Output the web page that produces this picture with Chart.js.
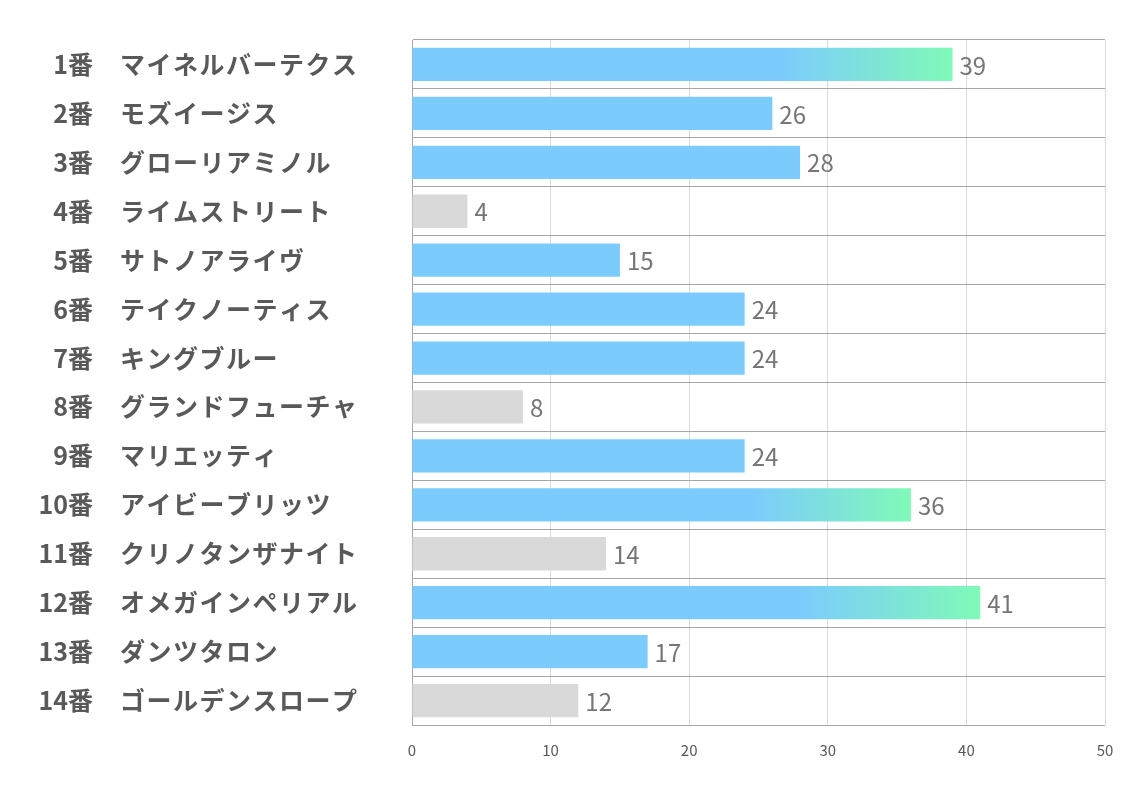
<!DOCTYPE html>
<html lang="ja">
<head>
  <meta charset="UTF-8" />
  <title>出走馬</title>
  <script src="https://cdn.jsdelivr.net/npm/chart.js"></script>
  <style>
    html, body { margin: 0; padding: 0; background: #fff; }
    #wrap { width: 1134px; height: 793px; }
  </style>
</head>
<body>
<div id="wrap"><canvas id="chart"></canvas></div>
<script>
  const numbers = ['1番','2番','3番','4番','5番','6番','7番','8番','9番','10番','11番','12番','13番','14番'];
  const horses = ['マイネルバーテクス','モズイージス','グローリアミノル','ライムストリート','サトノアライヴ','テイクノーティス','キングブルー','グランドフューチャ','マリエッティ','アイビーブリッツ','クリノタンザナイト','オメガインペリアル','ダンツタロン','ゴールデンスロープ'];
  const values = [39, 26, 28, 4, 15, 24, 24, 8, 24, 36, 14, 41, 17, 12];
  // b = blue, g = gray, t = top (gradient)
  const kinds = ['t','b','b','g','b','b','b','g','b','t','g','t','b','g'];
  const xTicks = [0, 10, 20, 30, 40, 50];

  const BLUE = '#7ccbfd';
  const GREEN = '#80f9b8';
  const GRAY = '#d9d9d9';
  const FONT = "'Noto Sans CJK JP', 'Noto Sans', sans-serif";

  function barColor(ctx) {
    const k = kinds[ctx.dataIndex];
    if (k === 'g') return GRAY;
    if (k === 'b') return BLUE;
    const chart = ctx.chart;
    const xs = chart.scales.x;
    if (!xs || !chart.chartArea) return BLUE;
    const x0 = xs.getPixelForValue(0);
    const x1 = xs.getPixelForValue(values[ctx.dataIndex]);
    const g = chart.ctx.createLinearGradient(x0, 0, x1, 0);
    g.addColorStop(0, BLUE);
    g.addColorStop(0.68, BLUE);
    g.addColorStop(1, GREEN);
    return g;
  }

  const labelPlugin = {
    id: 'labels',
    afterDatasetsDraw(chart) {
      const c = chart.ctx;
      const ys = chart.scales.y;
      const meta = chart.getDatasetMeta(0);
      c.save();
      c.textBaseline = 'middle';
      // left side names
      c.font = 'bold 25px ' + FONT;
      c.fillStyle = '#595959';
      horses.forEach((h, i) => {
        const y = ys.getPixelForValue(i);
        c.letterSpacing = '0px';
        c.textAlign = 'right';
        c.fillText(numbers[i], 93, y);
        c.letterSpacing = '1.5px';
        c.textAlign = 'left';
        c.fillText(h, 120, y);
      });
      c.letterSpacing = '0px';
      // value labels
      c.font = '24px ' + FONT;
      c.fillStyle = '#767676';
      c.textAlign = 'left';
      meta.data.forEach((bar, i) => {
        c.fillText(String(values[i]), bar.x + 7, bar.y + 1);
      });
      c.restore();
    }
  };

  new Chart(document.getElementById('chart'), {
    type: 'bar',
    data: {
      labels: horses,
      datasets: [{
        data: values,
        backgroundColor: barColor,
        borderWidth: 0,
        barPercentage: 0.68,
        categoryPercentage: 1
      }]
    },
    options: {
      indexAxis: 'y',
      responsive: true,
      maintainAspectRatio: false,
      animation: false,
      layout: { padding: { left: 412, top: 40, right: 29, bottom: 18 } },
      plugins: { legend: { display: false }, tooltip: { enabled: false } },
      scales: {
        x: {
          min: 0,
          max: 50,
          afterBuildTicks(axis) { axis.ticks = xTicks.map(v => ({ value: v })); },
          grid: { color: '#d9d9d9', drawTicks: false },
          border: { display: false },
          ticks: { padding: 16, color: '#595959', font: { size: 15, family: FONT } }
        },
        y: {
          grid: { offset: true, color: '#a6a6a6', drawTicks: false },
          border: { color: '#a6a6a6' },
          ticks: { display: false }
        }
      }
    },
    plugins: [labelPlugin]
  });
</script>
</body>
</html>
